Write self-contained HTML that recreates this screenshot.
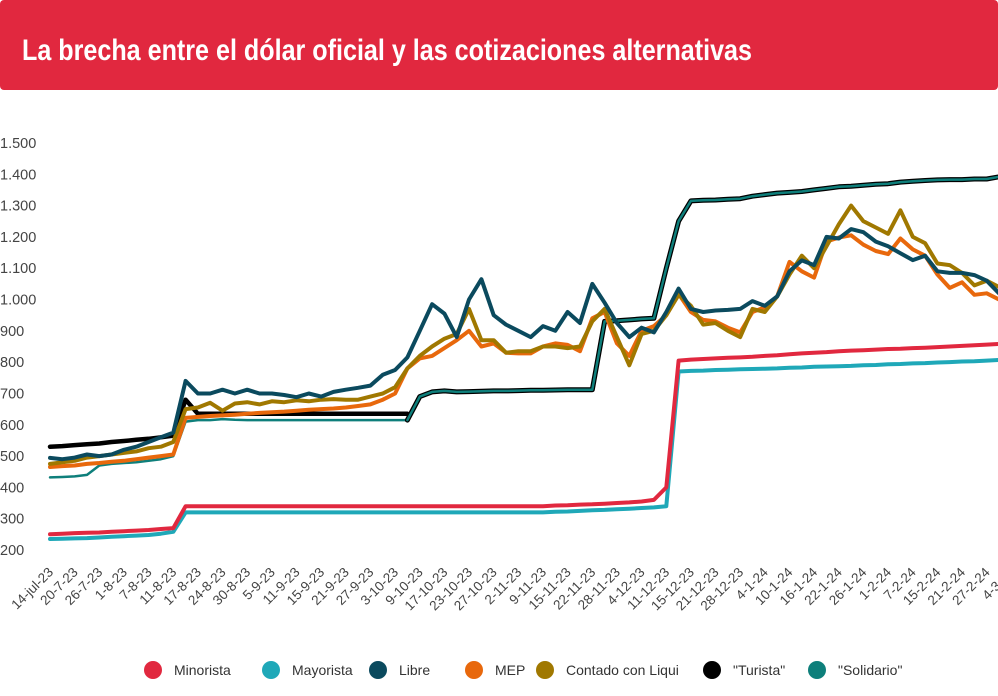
<!DOCTYPE html>
<html><head><meta charset="utf-8">
<style>
body{margin:0;background:#fff;width:998px;height:691px;overflow:hidden;font-family:"Liberation Sans",sans-serif}
</style></head>
<body>
<svg id="chart" width="998" height="691" viewBox="0 0 998 691" xmlns="http://www.w3.org/2000/svg">
<rect x="0" y="0" width="998" height="90" rx="4" fill="#e1283f"/>
<text x="22" y="60" fill="#fff" font-family="'Liberation Sans Narrow','Liberation Sans',sans-serif" font-weight="bold" font-size="30" textLength="730" lengthAdjust="spacingAndGlyphs">La brecha entre el dólar oficial y las cotizaciones alternativas</text>
<g id="yaxis"></g>
<g id="xaxis"></g>
<g id="series"></g>
<g id="legend"></g>
</svg>
<script>
const categories=["14-jul-23","20-7-23","26-7-23","1-8-23","7-8-23","11-8-23","17-8-23","24-8-23","30-8-23","5-9-23","11-9-23","15-9-23","21-9-23","27-9-23","3-10-23","9-10-23","17-10-23","23-10-23","27-10-23","2-11-23","9-11-23","15-11-23","22-11-23","28-11-23","4-12-23","11-12-23","15-12-23","21-12-23","28-12-23","4-1-24","10-1-24","16-1-24","22-1-24","26-1-24","1-2-24","7-2-24","15-2-24","21-2-24","27-2-24","4-3-24"];
const yTicks=[200,300,400,500,600,700,800,900,1000,1100,1200,1300,1400,1500];
const yTickLabels=["200","300","400","500","600","700","800","900","1.000","1.100","1.200","1.300","1.400","1.500"];
// values sampled every half category step (index 0, 0.5, 1, ...)
const minorista=[250,252,254,255,256,258,260,262,264,267,270,
340,340,340,340,340,340,340,340,340,340,340,340,340,340,340,340,340,340,340,340,340,340,340,340,340,340,340,340,340,340,
342,343,345,346,348,350,352,355,360,400,805,
808,810,812,814,815,817,820,822,825,828,830,832,835,837,838,840,842,843,845,846,848,850,852,854,856,858];
const mayorista=[235,236,237,238,240,242,244,246,248,252,258,
320,320,320,320,320,320,320,320,320,320,320,320,320,320,320,320,320,320,320,320,320,320,320,320,320,320,320,320,320,320,
322,323,325,327,328,330,332,334,336,340,770,
772,773,775,776,777,778,779,780,782,783,785,786,787,788,790,791,793,794,796,797,799,800,802,803,805,807];
const libre=[494,490,495,505,500,505,520,530,545,560,575,740,700,700,712,700,712,700,700,695,688,700,690,705,712,718,725,760,775,815,900,985,955,880,1000,1065,950,920,900,880,915,900,960,925,1050,990,925,880,910,895,960,1035,970,960,965,967,970,995,980,1010,1090,1125,1110,1200,1195,1225,1215,1185,1170,1148,1126,1140,1090,1085,1085,1078,1060,1020];
const mep=[465,468,470,475,478,482,485,490,495,500,505,622,625,628,630,632,635,638,640,642,645,648,650,652,655,660,665,680,700,780,812,820,845,870,900,850,860,830,828,828,850,860,855,835,940,960,860,820,900,915,950,1018,960,935,930,910,895,960,975,1010,1120,1090,1070,1185,1198,1205,1175,1155,1145,1195,1160,1140,1080,1037,1055,1015,1020,1000];
const ccl=[475,480,485,495,500,505,510,515,525,530,545,650,655,670,645,668,672,665,675,672,678,675,680,682,680,680,690,700,720,780,820,850,875,890,970,870,870,830,835,835,850,850,845,850,930,970,880,790,890,900,950,1015,980,920,925,900,880,970,960,1010,1080,1140,1100,1170,1240,1300,1250,1230,1210,1285,1200,1180,1115,1110,1085,1045,1060,1040];
const turista=[530,532,535,538,540,545,548,552,555,560,565,680,635,635,635,635,635,635,635,635,635,635,635,635,635,635,635,635,635,635];
const solidario=[432,433,435,440,470,475,478,480,485,490,500,610,615,615,618,616,615,615,615,615,615,615,615,615,615,615,615,615,615,615,690,705,708,705,706,707,708,708,709,710,710,711,712,712,712,930,932,935,938,940,1100,1250,1315,1317,1318,1320,1322,1330,1335,1340,1342,1345,1350,1355,1360,1362,1365,1368,1370,1375,1378,1380,1382,1383,1383,1385,1385,1392];
const mergeIndex=29;

const NS="http://www.w3.org/2000/svg";
const X0=50, STEP=24.65, Y200=550, PX=0.3131;
function xScale(i){return X0+i*STEP;}
function yScale(v){return Y200-(v-200)*PX;}
function mk(tag,attrs,parent){const e=document.createElementNS(NS,tag);for(const k in attrs)e.setAttribute(k,attrs[k]);parent.appendChild(e);return e;}

const ya=document.getElementById('yaxis');
yTicks.forEach((t,k)=>{
  const el=mk('text',{x:0,y:yScale(t)+5,'font-size':14.5,fill:'#444'},ya);
  
  
  el.textContent=yTickLabels[k];
});
const xa=document.getElementById('xaxis');
categories.forEach((c,i)=>{
  const x=xScale(i)+4, y=573;
  const el=mk('text',{x:x,y:y,'font-size':13.5,fill:'#444','text-anchor':'end',transform:`rotate(-45 ${x} ${y})`},xa);
  
  
  el.textContent=c;
});

const sg=document.getElementById('series');
function pathFor(arr,start){let d='';arr.forEach((v,k)=>{if(v==null)return;const i=(k+start)/2;d+=(d?'L':'M')+xScale(i).toFixed(1)+' '+yScale(v).toFixed(1);});return d;}
function line(arr,start,color,w,name){
  const p=mk('path',{d:pathFor(arr,start),fill:'none',stroke:color,'stroke-width':w,'stroke-linejoin':'round','stroke-linecap':'round'},sg);
  
  
  return p;
}
line(mayorista,0,'#1fa8b8',4,'mayorista-line');
line(minorista,0,'#e1283f',4,'minorista-line');
line(solidario.slice(0,mergeIndex+1),0,'#0e7f7b',2.5,'solidario-line-early');
line(turista,0,'#000',4.5,'turista-line');
line(solidario.slice(mergeIndex),mergeIndex,'#000',5,'turista-solidario-outline');
line(solidario.slice(mergeIndex),mergeIndex,'#0e7f7b',2.5,'solidario-line');
line(mep,0,'#e8680c',4,'mep-line');
line(ccl,0,'#a07800',4,'ccl-line');
line(libre,0,'#0b4a5e',4,'libre-line');

const legendItems=[["Minorista","#e1283f",153],["Mayorista","#1fa8b8",271],["Libre","#0b4a5e",378],["MEP","#e8680c",474],["Contado con Liqui","#a07800",545],["\"Turista\"","#000",712],["\"Solidario\"","#0e7f7b",817]];
const lg=document.getElementById('legend');
legendItems.forEach(([label,color,x])=>{
  const g=mk('g',{},lg);
  
  
  mk('circle',{cx:x,cy:670,r:9,fill:color},g);
  const t=mk('text',{x:x+21,y:675,'font-size':14,fill:'#333'},g);
  t.textContent=label;
});
</script>
</body></html>
